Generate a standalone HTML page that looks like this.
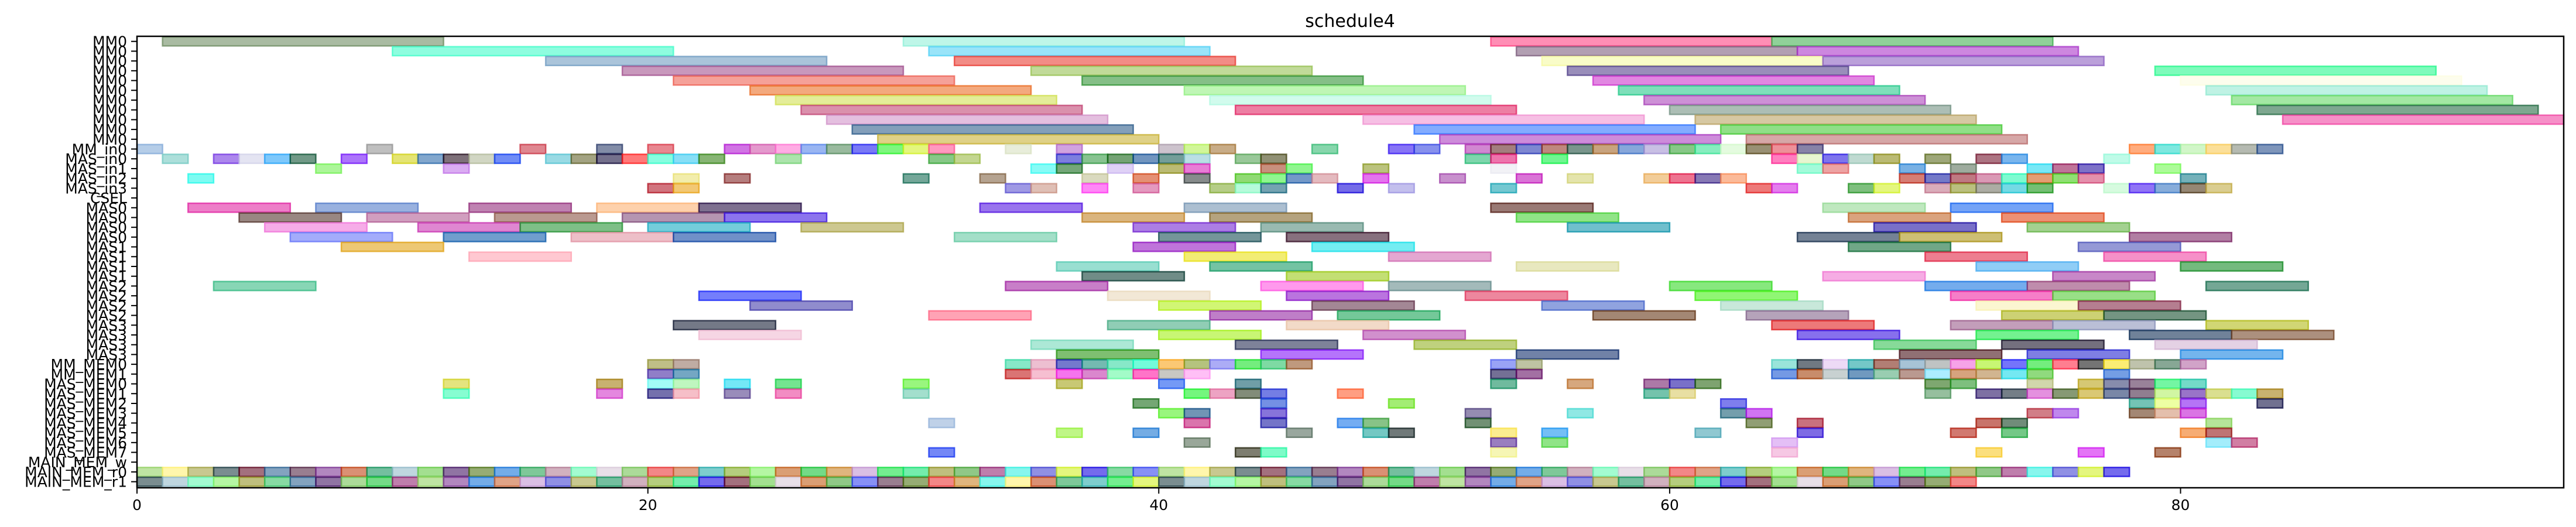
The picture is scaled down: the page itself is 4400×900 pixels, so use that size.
<!DOCTYPE html>
<html><head><meta charset="utf-8"><title>schedule4</title>
<style>html,body{margin:0;padding:0;background:#fff;}svg{display:block;font-family:"DejaVu Sans","Liberation Sans",sans-serif;}</style>
</head><body>
<svg id="chart" width="4400" height="900" viewBox="0 0 4400 900" xmlns="http://www.w3.org/2000/svg">
<text x="2306" y="46" font-size="30" text-anchor="middle">schedule4</text>
<g id="bars"></g>
<g id="yaxis"></g>
<g id="xaxis"></g>
<rect x="234" y="62" width="4145" height="771" fill="none" stroke="#000" stroke-width="2.5"/>
</svg>
<script>
const rowLabels = ["MM0","MM0","MM0","MM0","MM0","MM0","MM0","MM0","MM0","MM0","MM0","MM_in0","MAS_in0","MAS_in1","MAS_in2","MAS_in3","CSEL","MAS0","MAS0","MAS0","MAS0","MAS1","MAS1","MAS1","MAS1","MAS2","MAS2","MAS2","MAS2","MAS3","MAS3","MAS3","MAS3","MM_MEM0","MM_MEM1","MAS_MEM0","MAS_MEM1","MAS_MEM2","MAS_MEM3","MAS_MEM4","MAS_MEM5","MAS_MEM6","MAS_MEM7","MAIN_MEM_w","MAIN_MEM_r0","MAIN_MEM_r1"];
const xTicks = [0,20,40,60,80];
const xMin = 0, xMax = 95;
const rowTasks = [
"1-12#6b8a5e 30-41#8ff0d8 53-64#ff3d7f 64-75#3fb04f",
"10-21#3dfcc8 31-42#4fd0f5 54-65#7a5a7a 65-76#a830c8",
"16-27#6c9ac0 32-43#e8382f 55-66#f5f9a0 66-77#8a5cc0",
"19-30#a04d8c 35-46#95c050 56-67#4f3d88 79-90#20f88a",
"21-32#ee5d50 37-48#2d9030 57-68#cc30cc 80-91#fcfce0",
"24-35#ea6a20 41-52#90f080 58-69#20c888 81-92#90e8d0",
"25-36#d0e050 42-53#b0f8e0 59-70#a840b8 82-93#60d860",
"26-37#c04070 43-54#e02060 60-71#708f80 83-94#206840",
"27-38#d090c8 48-59#f090d0 61-72#b8a060 84-95#f040a0",
"28-39#2a5a88 50-61#2a70ff 62-73#40c830",
"29-40#c8b030 51-62#a838c0 63-74#b86868",
"0-1#80a8d8 9-10#909090 15-16#c83040 18-19#283868 20-21#d83040 23-24#b010d0 24-25#d050a8 25-26#ff70d0 26-27#5080e8 27-28#508858 28-29#1818f0 29-30#20f020 30-31#d0f020 31-32#ff5090 34-35#d8e0c0 36-37#b060c8 40-41#a898a8 41-42#b0f050 42-43#a07030 46-47#30b870 49-50#3010f0 50-51#3040e0 52-53#b030b0 53-54#602020 54-55#2030b0 55-56#903020 56-57#184838 57-58#a06020 58-59#3068c0 59-60#a090d0 60-61#30a030 61-62#30e090 62-63#d0f8c8 63-64#504010 64-65#e04050 65-66#302868 78-79#ff7020 79-80#20d8c8 80-81#b0f0a0 81-82#f8c850 82-83#808878 83-84#204888",
"1-2#70c8c0 3-4#7030e0 4-5#d0d0e8 5-6#20a0f8 6-7#0a5030 8-9#7010f8 10-11#d0d010 11-12#2868a8 12-13#200818 13-14#b0b898 14-15#0838f0 16-17#50c0d0 17-18#606028 18-19#100838 19-20#ff1818 20-21#30fcc8 21-22#30c8f0 22-23#308010 25-26#70d070 31-32#30a030 32-33#98b840 36-37#2020c8 37-38#309840 38-39#106010 39-40#0a4890 40-41#105850 41-42#88c8d0 43-44#50a050 44-45#404010 52-53#20b870 53-54#e01070 55-56#08f040 64-65#ff2090 65-66#d8f0b0 66-67#2010e0 67-68#90c0b0 68-69#888810 70-71#586818 72-73#701028 73-74#1880e0 77-78#90f8d8",
"7-8#70f050 12-13#c070e8 35-36#30f8f0 36-37#106818 38-39#c8b0f0 40-41#8a8a10 41-42#d820b8 44-45#a04020 45-46#40f040 48-49#8a9820 53-54#e8e8f0 65-66#60f8c0 66-67#e06060 69-70#1878d0 71-72#587058 74-75#18d8f0 75-76#901050 76-77#200aa0 79-80#70f850",
"2-3#20f8e8 21-22#e8e070 23-24#802020 30-31#106850 33-34#806040 37-38#c0c090 39-40#d04010 41-42#303838 43-44#40c010 44-45#40f040 45-46#1050a0 46-47#d08890 48-49#d010e0 51-52#a040a8 54-55#c010b8 56-57#d0d070 59-60#e8a850 60-61#e01040 61-62#301880 62-63#f88850 69-70#b82010 70-71#1018a0 71-72#901828 72-73#c05080 73-74#20f8b0 74-75#d05810 75-76#40c810 76-77#d04070 80-81#107888",
"20-21#b01020 21-22#e8a010 34-35#5a50d0 35-36#c89080 37-38#ff30f0 39-40#d05090 42-43#80a830 43-44#80f8c0 44-45#106078 47-48#1000d8 49-50#9890e0 53-54#10a0b0 63-64#e01818 64-65#d020e0 67-68#209020 68-69#d0f020 70-71#c07088 71-72#889020 72-73#707060 73-74#10c0d0 74-75#109010 77-78#b8f8c8 78-79#4010f0 79-80#3070c0 80-81#483010 81-82#c0a840",
"",
"2-6#e020a0 7-11#5078c8 13-17#902878 18-22#fcb070 22-26#200840 33-37#5010e0 41-45#7090b0 53-57#501810 66-70#90d890 71-75#1060f0",
"4-8#503028 9-13#b05890 14-18#885040 19-23#804878 23-27#3810e0 37-41#c08020 42-46#806020 54-58#40d030 67-71#c06020 73-77#e04010",
"5-9#f070d8 11-15#c830b0 15-19#209030 20-24#10a8c0 26-30#a8a040 39-43#7020d0 44-48#508878 56-60#0890a8 68-72#1808a0 74-78#60b040",
"6-10#6070f8 12-16#0858a8 17-21#e090a0 21-25#0840a0 32-36#60c8a0 40-44#104850 45-49#300820 65-69#102848 69-73#a89010 78-82#782060",
"8-12#e0a010 39-43#9010c0 46-50#10e0e8 67-71#086830 76-80#4850b8",
"13-17#ffa0b0 41-45#e8e010 49-53#d068b0 70-74#e02040 77-81#f040a0",
"36-40#50c8b0 42-46#109860 54-58#d8d890 72-76#40a8f0 80-84#108820",
"37-41#083830 45-49#98c810 66-70#f070d0 75-79#a030a0",
"3-7#30b880 34-38#a020a0 44-48#ff50e0 49-53#608888 60-64#30d820 70-74#1070e0 74-78#903870 81-85#106848",
"22-26#1020f8 38-42#e8d8b8 45-49#8810c8 52-56#e03058 61-65#40f010 71-75#f020a0 75-79#50c830",
"24-28#4038a8 40-44#b0f010 46-50#603048 55-59#4060c8 62-66#a0d8c0 72-76#f8f0b0 76-80#802040",
"31-35#ff6080 42-46#9020a0 47-51#10a050 57-61#603010 63-67#806088 73-77#a8b010 77-81#104828",
"21-25#101830 38-42#40a880 45-49#e8c0a0 64-68#e01818 71-75#985888 75-79#8890b8 81-85#b0b810",
"22-26#f0b8d0 40-44#a0f010 48-52#b040a8 65-69#3008e0 72-76#10e840 78-82#082850 82-86#704020",
"35-39#70d8b8 43-47#202850 50-54#90b020 68-72#30c050 73-77#100820 79-83#d0b0d0",
"36-40#20900a 44-48#8010f8 54-58#0a2868 69-73#400810 74-78#2020d0 80-84#1080e0",
"20-21#909030 21-22#907060 34-35#30d8a0 35-36#e090b0 36-37#1018a8 37-38#108878 38-39#30d8a0 39-40#10f8c0 40-41#f8a010 41-42#809820 42-43#7070f0 43-44#10e020 44-45#20c060 45-46#905020 53-54#5060f0 54-55#909860 64-65#50d0c0 65-66#081828 66-67#e0c0f0 67-68#10a0a0 68-69#782010 69-70#6898b8 70-71#909898 71-72#f060d8 72-73#a0f010 73-74#1010f8 74-75#10e020 75-76#ff2040 76-77#101010 77-78#f8e010 78-79#909870 79-80#306848 80-81#b060a0",
"20-21#4020a0 21-22#106898 34-35#c01010 35-36#f090b0 36-37#f010e0 37-38#c030a8 38-39#60f8a0 39-40#ff10a0 40-41#a0a098 41-42#ff90f0 53-54#100848 54-55#600860 64-65#1050d0 65-66#a03800 66-67#a0b0b0 67-68#085090 68-69#50a878 69-70#885040 70-71#70e0ff 71-72#b86020 72-73#b08040 73-74#10d8e8 74-75#40c020 77-78#1058d0",
"12-13#d0d020 18-19#a07808 20-21#60f8f0 21-22#90f090 23-24#10d8f0 25-26#10d040 30-31#50f020 36-37#a0a010 40-41#1050f0 43-44#085868 53-54#088858 56-57#b86820 59-60#701868 60-61#1808a0 61-62#206008 70-71#206808 71-72#209020 74-75#b0b870 76-77#b8a010 77-78#303870 78-79#502850 79-80#10f060 80-81#10c0a0",
"12-13#30fcb0 18-19#d030c8 20-21#100870 21-22#f090a0 23-24#503888 25-26#e83898 30-31#60c8a8 41-42#10f020 42-43#e06098 43-44#283818 44-45#1020d0 47-48#ff5828 59-60#109870 60-61#d8c860 70-71#4a9058 72-73#200860 73-74#102030 74-75#d040c8 75-76#305010 76-77#c0a010 77-78#183068 78-79#402040 79-80#b0f060 80-81#5010a0 81-82#c0c840 82-83#30f8b0 83-84#a07808",
"39-40#106810 44-45#1040d0 49-50#60e010 62-63#2020e0 78-79#109880 79-80#e0ff60 80-81#8010f0 83-84#080840",
"40-41#50f020 41-42#0a4880 44-45#3010c0 52-53#483878 56-57#40d8d0 62-63#105870 63-64#b010e8 74-75#b02030 75-76#9030e0 78-79#603010 79-80#d09070 80-81#c010d0",
"31-32#90b0d8 41-42#c01070 44-45#1010a0 47-48#1070e8 48-49#309830 52-53#0a4010 63-64#405810 65-66#a00820 72-73#a01000 73-74#083818 81-82#80d050",
"36-37#90f030 39-40#1070d0 45-46#506858 48-49#10a098 49-50#081818 53-54#f8e040 55-56#1090f0 61-62#40a0b0 65-66#2000d0 71-72#b01808 73-74#10a030 80-81#f07010 81-82#901010",
"41-42#506850 53-54#502090 55-56#40d030 64-65#d090f0 81-82#60e0f8 82-83#b02060",
"31-32#1030f0 43-44#202008 44-45#20f8a0 53-54#f0f080 64-65#f0a0d0 72-73#f8c820 76-77#d010f0 79-80#802800",
""
];
// MAIN_MEM_r0 / r1 unit-length task start times
const r0Starts = [0,1,2,3,4,5,6,7,8,9,10,11,12,13,14,15,16,17,18,19,20,21,22,23,24,25,26,27,28,29,30,31,32,33,34,35,36,37,38,39,40,41,42,43,44,45,46,47,48,49,50,51,52,53,54,55,56,57,58,59,60,61,62,63,64,65,66,67,68,69,70,71,72,73,74,75,76,77];
const r1Starts = [0,1,2,3,4,5,6,7,8,9,10,11,12,13,14,15,16,17,18,19,20,21,22,23,24,25,26,27,28,29,30,31,32,33,34,35,36,37,38,39,40,41,42,43,44,45,46,47,48,49,50,51,52,53,54,55,56,57,58,59,60,61,62,63,64,65,66,67,68,69,70,71];
const palette = ["#90d060","#fff070","#a0a040","#1a3a40","#600820","#2a6090","#502040","#7a3090","#c04010","#10905a","#90b8c8","#60c840","#401060","#4a7010","#1070d8","#20a050","#b07890","#60f8b0","#d8c8d8","#70c050","#e83030","#c86030","#20a8a8","#80a820","#80f060","#c05810","#10c030","#c88020","#c090d0","#10e040","#10e070","#909020","#40a030","#902070","#30f0e0","#4040d0","#d0f020","#1000e0","#30c060","#3040f0"];

const X0 = 234, X1 = 4379, Y0 = 62, Y1 = 833;
const rowTop = 70.7, rowPitch = 16.71;
function xs(v){ return X0 + (v - xMin) * (X1 - X0) / (xMax - xMin); }
function ys(r){ return rowTop + r * rowPitch; }
const NS = "http://www.w3.org/2000/svg";
const barsG = document.getElementById("bars");
const barH = rowPitch * 0.92;

function addBar(row, s, e, color){
  const r = document.createElementNS(NS, "rect");
  r.setAttribute("x", xs(s));
  r.setAttribute("y", ys(row) - barH/2);
  r.setAttribute("width", xs(e) - xs(s));
  r.setAttribute("height", barH);
  r.setAttribute("fill", color);
  r.setAttribute("fill-opacity", "0.58");
  r.setAttribute("stroke", color);
  r.setAttribute("stroke-opacity", "0.75");
  r.setAttribute("stroke-width", "2.5");
  
  
  barsG.appendChild(r);
}
rowTasks.forEach((str, row) => {
  str.trim().split(/\s+/).filter(Boolean).forEach(tok => {
    const m = tok.match(/^([\d.]+)-([\d.]+)(#[0-9a-fA-F]{6})$/);
    if (m) addBar(row, parseFloat(m[1]), parseFloat(m[2]), m[3]);
  });
});
r0Starts.forEach((s, i) => addBar(44, s, s + 1, palette[i % palette.length]));
r1Starts.forEach((s, i) => addBar(45, s, s + 1, palette[(i * 7 + 3) % palette.length]));

const yG = document.getElementById("yaxis");
rowLabels.forEach((lab, i) => {
  const t = document.createElementNS(NS, "line");
  t.setAttribute("x1", X0 - 10); t.setAttribute("x2", X0);
  t.setAttribute("y1", ys(i)); t.setAttribute("y2", ys(i));
  t.setAttribute("stroke", "#000"); t.setAttribute("stroke-width", "2");
  
  
  yG.appendChild(t);
  const tx = document.createElementNS(NS, "text");
  tx.setAttribute("x", X0 - 17); tx.setAttribute("y", ys(i) + 9);
  tx.setAttribute("font-size", "25"); tx.setAttribute("text-anchor", "end");
  tx.textContent = lab;
  
  
  yG.appendChild(tx);
});
const xG = document.getElementById("xaxis");
xTicks.forEach(v => {
  const t = document.createElementNS(NS, "line");
  t.setAttribute("x1", xs(v)); t.setAttribute("x2", xs(v));
  t.setAttribute("y1", Y1); t.setAttribute("y2", Y1 + 10);
  t.setAttribute("stroke", "#000"); t.setAttribute("stroke-width", "2");
  
  
  xG.appendChild(t);
  const tx = document.createElementNS(NS, "text");
  tx.setAttribute("x", xs(v)); tx.setAttribute("y", Y1 + 38);
  tx.setAttribute("font-size", "25"); tx.setAttribute("text-anchor", "middle");
  tx.textContent = String(v);
  
  
  xG.appendChild(tx);
});
</script>
</body></html>
